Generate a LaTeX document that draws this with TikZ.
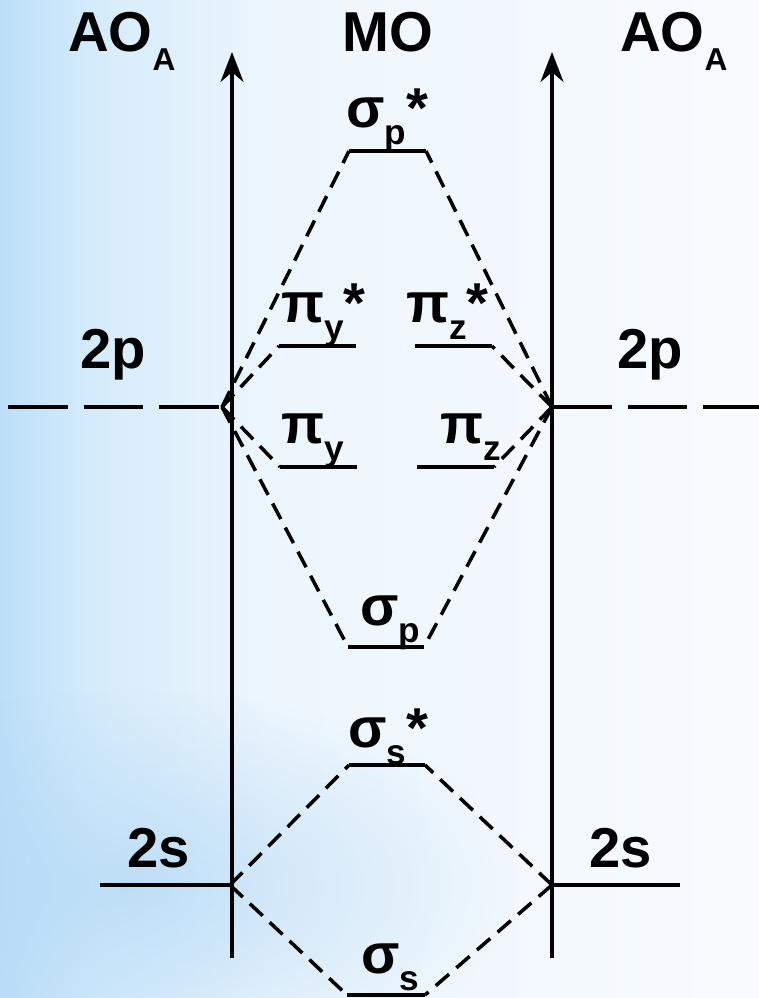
\documentclass[tikz,border=0pt]{standalone}
\usepackage{fontspec}
\setmainfont{Liberation Sans}
\usetikzlibrary{arrows.meta, fadings}

\definecolor{bgleft}{RGB}{188,223,249}
\definecolor{bgnear}{RGB}{214,236,251}
\definecolor{bgmid}{RGB}{237,246,253}
\definecolor{bgright}{RGB}{248,251,254}
\definecolor{bgband}{RGB}{178,216,246}

\pgfdeclarehorizontalshading{bgshade}{100bp}{color(0bp)=(bgleft); color(25bp)=(bgleft);
    color(31.6bp)=(bgnear); color(43bp)=(bgmid); color(75bp)=(bgright); color(100bp)=(bgright)}
\tikzfading[name=bandfade, inner color=transparent!30, outer color=transparent!100]

\tikzset{
    level/.style={line width=2.2pt, black},
    axis/.style={-{Stealth[length=17pt, width=13pt]}, line width=2.2pt, black},
    link/.style={line width=2pt, dash pattern=on 10pt off 5.5pt, black},
    atomic/.style={line width=2pt, dash pattern=on 34pt off 9pt, black},
    lbl/.style={anchor=base west, inner sep=0pt, font=\bfseries\fontsize{32}{34}\selectfont},
}
\newcommand{\orb}[3]{#1\raisebox{-10pt}{\fontsize{20}{22}\selectfont #2}#3}
\newcommand{\aosub}{AO\raisebox{-11.3pt}{\fontsize{18}{20}\selectfont A}}

\begin{document}
\begin{tikzpicture}[x=0.02cm, y=-0.02cm]

    % background
    \useasboundingbox (0,0) rectangle (759,998);
    \begin{scope}
        \clip (0,0) rectangle (759,998);
        \shade[shading=bgshade] (0,0) rectangle (759,998);
        \fill[bgband, path fading=bandfade] (-260,690) rectangle (520,1080);
    \end{scope}

    % energy axes
    \coordinate (axL0) at (232,958); \coordinate (axL1) at (232,52);
    \coordinate (axR0) at (552,958); \coordinate (axR1) at (552,52);
    \draw[axis] (axL0) -- (axL1);
    \draw[axis] (axR0) -- (axR1);

    % headings
    \node[lbl] (hAOl) at (68,51) {\aosub};
    \node[lbl] (hMO) at (342,51) {MO};
    \node[lbl] (hAOr) at (620,51) {\aosub};

    % atomic levels
    \coordinate (p2L) at (222,407); \coordinate (p2Lout) at (8,407);
    \coordinate (p2R) at (552,407); \coordinate (p2Rout) at (759,407);
    \coordinate (s2L) at (230,885); \coordinate (s2Lout) at (100,885);
    \coordinate (s2R) at (552,885); \coordinate (s2Rout) at (680,885);
    \draw[atomic] (p2Lout) -- (p2L);
    \draw[atomic] (p2R) -- (p2Rout);
    \draw[level] (s2Lout) -- (s2L);
    \draw[level] (s2R) -- (s2Rout);
    \node[lbl] (t2pL) at (80,368) {2p};
    \node[lbl] (t2pR) at (617,368) {2p};
    \node[lbl] (t2sL) at (127,867) {2s};
    \node[lbl] (t2sR) at (589,867) {2s};

    % molecular levels
    \coordinate (spsA) at (349,151); \coordinate (spsB) at (426,151);
    \coordinate (pysA) at (279,346); \coordinate (pysB) at (356,346);
    \coordinate (pzsA) at (415,346); \coordinate (pzsB) at (492,346);
    \coordinate (pyA) at (280,467);  \coordinate (pyB) at (357,467);
    \coordinate (pzA) at (417,467);  \coordinate (pzB) at (494,467);
    \coordinate (spA) at (348,647);  \coordinate (spB) at (424,647);
    \coordinate (sssA) at (349,765); \coordinate (sssB) at (425,765);
    \coordinate (ssA) at (347,995);  \coordinate (ssB) at (425,995);
    \foreach \lv in {sps,pys,pzs,py,pz,sp,sss,ss} {
        \draw[level] (\lv A) -- (\lv B);
    }

    % level labels
    \node[lbl] (tsps) at (346,127) {\orb{σ}{p}{*}};
    \node[lbl] (tpys) at (281,322) {\orb{π}{y}{*}};
    \node[lbl] (tpzs) at (406,322) {\orb{π}{z}{*}};
    \node[lbl] (tpy) at (281,443) {\orb{π}{y}{}};
    \node[lbl] (tpz) at (440,443) {\orb{π}{z}{}};
    \node[lbl] (tsp) at (360,625) {\orb{σ}{p}{}};
    \node[lbl] (tsss) at (348,747) {\orb{σ}{s}{*}};
    \node[lbl] (tss) at (361,973) {\orb{σ}{s}{}};

    % correlation lines
    \foreach \lv in {spsA,pysA,pyA,spA} {\draw[link] (p2L) -- (\lv);}
    \foreach \lv in {spsB,pzsB,pzB,spB} {\draw[link] (p2R) -- (\lv);}
    \foreach \lv in {sssA,ssA} {\draw[link] (s2L) -- (\lv);}
    \foreach \lv in {sssB,ssB} {\draw[link] (s2R) -- (\lv);}

\end{tikzpicture}
\end{document}
